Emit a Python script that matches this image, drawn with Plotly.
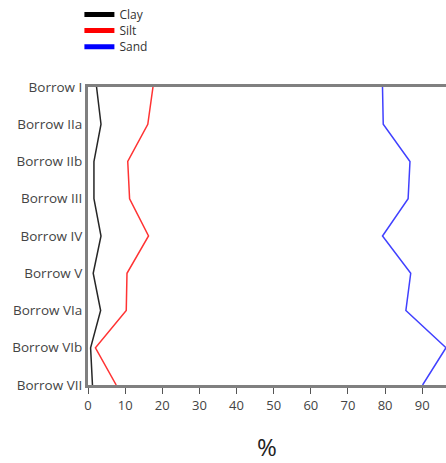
import plotly.graph_objects as go

# Borrow pit samples, top to bottom
borrows = ["Borrow I", "Borrow IIa", "Borrow IIb", "Borrow III", "Borrow IV",
           "Borrow V", "Borrow VIa", "Borrow VIb", "Borrow VII"]

# Grain size fractions (%)
clay = [2.3, 3.5, 1.6, 1.6, 3.5, 1.4, 3.4, 0.7, 1.2]
silt = [17.5, 16.1, 10.7, 11.2, 16.3, 10.5, 10.3, 2.0, 7.6]
sand = [79.3, 79.5, 86.7, 86.2, 79.3, 86.9, 85.6, 96.4, 90.1]

x_ticks = [0, 10, 20, 30, 40, 50, 60, 70, 80, 90]

series = [("Clay", clay, "rgba(0,0,0,0.85)", "#000000"),
          ("Silt", silt, "rgba(255,0,0,0.8)", "#ff0000"),
          ("Sand", sand, "rgba(0,0,255,0.75)", "#0000ff")]

# one compact legend box per series so the rows sit tightly stacked
legend_ids = ["legend", "legend2", "legend3"]
legend_y = [1.292, 1.238, 1.184]

fig = go.Figure()
for name, vals, col, _ in series:
    fig.add_trace(go.Scatter(x=vals, y=borrows, mode="lines", name=name,
                             line=dict(color=col, width=1.5),
                             showlegend=False, cliponaxis=False))
for (name, _, _, solid), lid in zip(series, legend_ids):
    fig.add_trace(go.Scatter(x=[None], y=[None], mode="lines", name=name,
                             legend=lid, line=dict(color=solid, width=5)))

font = "Open Sans, Noto Sans, sans-serif"
legend_style = dict(x=-0.024, xanchor="left", yanchor="top",
                    font=dict(size=12, color="#333333"), itemwidth=30,
                    bgcolor="rgba(0,0,0,0)")

fig.update_layout(
    width=446, height=463,
    margin=dict(l=88, r=0, t=87, b=78),
    paper_bgcolor="white", plot_bgcolor="white",
    font=dict(family=font, size=13, color="#444444"),
    legend=dict(y=legend_y[0], **legend_style),
    legend2=dict(y=legend_y[1], **legend_style),
    legend3=dict(y=legend_y[2], **legend_style),
    xaxis=dict(range=[0, 96.4], tickvals=x_ticks, showgrid=False,
               zeroline=False, showline=True, linecolor="#808080",
               linewidth=3, mirror=True, ticks="outside", ticklen=6,
               tickcolor="#555555", tickwidth=1,
               tickfont=dict(size=13),
               title=dict(text="%", font=dict(size=24, color="#222222"),
                          standoff=28)),
    yaxis=dict(type="category", categoryarray=borrows, range=[8, 0],
               showgrid=False, zeroline=False, showline=True,
               linecolor="#808080", linewidth=3, ticks="",
               ticklabelstandoff=0, tickfont=dict(size=13.5)),
)

fig.write_html("out.html")
